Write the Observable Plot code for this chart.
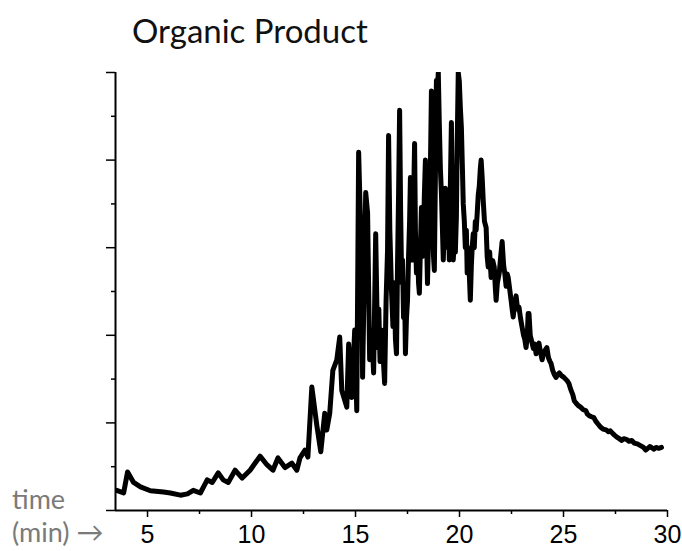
<!DOCTYPE html>
<html>
<head>
<meta charset="utf-8">
<script src="https://cdn.jsdelivr.net/npm/d3@7"></script>
<script src="https://cdn.jsdelivr.net/npm/@observablehq/plot@0.6"></script>
<style>
  html, body { margin: 0; padding: 0; background: #fff; }
  #wrap { position: relative; width: 682px; height: 551px; overflow: hidden; }
  #title { position: absolute; left: 132px; top: 14px; font: 33px/33px Lato, "Open Sans", sans-serif; color: #111; white-space: nowrap; }
  .unit { position: absolute; left: 12px; font: 27px/27px Lato, "Open Sans", sans-serif; color: #7a7a7a; white-space: nowrap; }
  #chart { position: absolute; left: 0; top: 0; }
</style>
</head>
<body>
<div id="wrap">
  <div id="chart"></div>
  <div id="title">Organic Product</div>
  <div class="unit" style="top:485px">time</div>
  <div class="unit" style="top:518px">(min) →</div>
</div>
<script>
// Retention time (min)
const times = [
  3.52, 3.85, 4.04, 4.33, 4.66, 5.14, 5.77, 6.10, 6.58, 6.92,
  7.20, 7.54, 7.87, 8.11, 8.40, 8.64, 8.88, 9.21, 9.55, 9.93,
  10.41, 10.75, 11.03, 11.27, 11.61, 11.94, 12.18, 12.33, 12.57, 12.71,
  12.90, 13.14, 13.33, 13.52, 13.62, 13.76, 13.91, 14.10, 14.24, 14.34,
  14.58, 14.67, 14.82, 14.96, 15.06, 15.15, 15.30, 15.34, 15.49, 15.58,
  15.68, 15.78, 15.87, 15.97, 16.06, 16.12, 16.18, 16.25, 16.32, 16.40,
  16.47, 16.54, 16.59, 16.65, 16.73, 16.80, 16.86, 16.92, 16.97, 17.02,
  17.07, 17.12, 17.17, 17.22, 17.26, 17.31, 17.36, 17.40, 17.45, 17.50,
  17.55, 17.60, 17.64, 17.69, 17.74, 17.79, 17.84, 17.88, 17.93, 17.98,
  18.03, 18.07, 18.12, 18.17, 18.22, 18.27, 18.31, 18.36, 18.41, 18.46,
  18.51, 18.55, 18.60, 18.65, 18.70, 18.75, 18.79, 18.84, 18.89, 18.94,
  18.98, 19.03, 19.08, 19.13, 19.18, 19.22, 19.27, 19.32, 19.37, 19.42,
  19.46, 19.51, 19.56, 19.61, 19.66, 19.70, 19.75, 19.80, 19.85, 19.89,
  19.94, 19.99, 20.04, 20.09, 20.14, 20.18, 20.23, 20.28, 20.33, 20.37,
  20.42, 20.47, 20.52, 20.57, 20.61, 20.66, 20.71, 20.76, 20.80, 20.85,
  20.90, 20.95, 21.00, 21.04, 21.09,
  21.14, 21.20, 21.28, 21.33, 21.38, 21.45, 21.52, 21.60, 21.67, 21.72,
  21.76, 21.82, 21.91, 21.98, 22.05, 22.12, 22.18, 22.24, 22.29, 22.34,
  22.40, 22.48, 22.53, 22.58, 22.65, 22.72, 22.79, 22.86, 22.93, 23.01,
  23.08, 23.14, 23.20, 23.26, 23.30, 23.34, 23.40, 23.49, 23.55, 23.62,
  23.68, 23.75, 23.82, 23.90, 23.97, 24.05, 24.12, 24.20, 24.28, 24.35,
  24.40, 24.48, 24.56, 24.64, 24.72, 24.80, 24.90, 25.02, 25.10, 25.18,
  25.26, 25.35, 25.45, 25.52, 25.59, 25.70, 25.82, 25.95, 26.07, 26.15,
  26.25, 26.35, 26.46, 26.55, 26.65, 26.79, 26.90, 27.05, 27.15, 27.25,
  27.32, 27.45, 27.55, 27.68, 27.80, 27.90, 28.05, 28.15, 28.28, 28.40,
  28.55, 28.70, 28.85, 28.95, 29.05, 29.15, 29.23, 29.35, 29.45, 29.58,
  29.71
];
// Detector signal (arbitrary units)
const signal = [
  0.23, 0.20, 0.44, 0.32, 0.27, 0.225, 0.21, 0.20, 0.175, 0.19,
  0.23, 0.20, 0.35, 0.32, 0.43, 0.35, 0.32, 0.46, 0.37, 0.46,
  0.62, 0.52, 0.46, 0.60, 0.49, 0.54, 0.46, 0.60, 0.69, 0.61,
  1.41, 0.97, 0.67, 1.11, 0.92, 1.11, 1.60, 1.72, 1.98, 1.37,
  1.18, 1.90, 1.29, 2.06, 1.14, 4.09, 2.74, 1.52, 3.63, 3.40,
  1.72, 2.06, 1.57, 3.16, 1.86, 2.30, 1.70, 2.06, 1.80, 1.45,
  2.40, 2.97, 4.28, 3.20, 2.51, 2.10, 2.60, 1.95, 1.79, 2.81,
  3.60, 4.57, 3.40, 2.60, 2.86, 2.20, 2.50, 1.79, 2.20, 2.40,
  2.90, 3.30, 3.80, 3.00, 2.86, 3.50, 4.19, 3.20, 2.71, 3.00,
  2.60, 2.48, 3.00, 3.46, 2.90, 3.16, 3.60, 4.00, 3.20, 2.59,
  3.10, 3.62, 3.90, 4.79, 3.40, 2.90, 2.74, 3.80, 4.91, 4.80,
  5.00, 4.40, 3.90, 3.62, 3.20, 2.86, 3.30, 3.68, 3.30, 3.00,
  3.40, 2.86, 3.70, 4.43, 3.50, 2.86, 3.10, 2.95, 3.35, 4.20,
  5.00, 4.90, 4.60, 4.37, 3.90, 3.50, 3.31, 3.00, 3.20, 2.71,
  3.00, 2.70, 2.40, 2.80, 3.00, 3.16, 3.00, 3.30, 3.20, 3.39,
  3.60, 3.70, 3.90, 4.00, 3.80,
  3.54, 3.30, 3.23, 2.90, 2.78, 2.95, 2.66, 2.85, 2.78, 2.55,
  2.40, 2.60, 2.71, 2.90, 3.07, 2.80, 2.70, 2.56, 2.70, 2.66,
  2.55, 2.40, 2.30, 2.21, 2.35, 2.45, 2.30, 2.32, 2.20, 2.09,
  2.00, 1.95, 1.86, 2.00, 2.25, 2.25, 2.00, 1.91, 1.85, 1.90,
  1.79, 1.88, 1.91, 1.80, 1.72, 1.80, 1.83, 1.86, 1.74, 1.70,
  1.68, 1.60, 1.55, 1.52, 1.55, 1.57, 1.54, 1.52, 1.50, 1.48,
  1.45, 1.38, 1.32, 1.25, 1.23, 1.20, 1.18, 1.15, 1.14, 1.10,
  1.08, 1.07, 1.06, 1.02, 0.99, 0.95, 0.93, 0.92, 0.90, 0.91,
  0.89, 0.86, 0.84, 0.82, 0.80, 0.82, 0.81, 0.79, 0.80, 0.77,
  0.76, 0.74, 0.72, 0.69, 0.71, 0.73, 0.72, 0.70, 0.72, 0.71,
  0.72
];
const xTicks = [5, 10, 15, 20, 25, 30];
const xMinorTicks = [7.5, 12.5, 17.5, 22.5, 27.5];
const yTicks = [0, 1, 2, 3, 4, 5];
const yMinorTicks = [0.5, 1.5, 2.5, 3.5, 4.5];
const xStart = 3.46;
const xEnd = 30;

const data = times.map((t, i) => ({time: t, value: signal[i]}));

const chart = Plot.plot({
  width: 682,
  height: 551,
  marginLeft: 115,
  marginRight: 15,
  marginTop: 72,
  marginBottom: 41,
  style: {background: "transparent", color: "#000"},
  x: {domain: [xStart, xEnd]},
  y: {domain: [0, 5]},
  marks: [
    Plot.axisX({ticks: xTicks, tickSize: 7, tickPadding: 8, fontSize: 25, strokeWidth: 1.5,
      tickFormat: d => String(d), label: null, fontFamily: "Liberation Sans, Arial, sans-serif"}),
    Plot.axisX({ticks: xMinorTicks, tickSize: 4, strokeWidth: 1.5, text: null, label: null}),
    Plot.axisY({ticks: yTicks, tickSize: 9, strokeWidth: 1.5, text: null, label: null}),
    Plot.axisY({ticks: yMinorTicks, tickSize: 4, strokeWidth: 1.5, text: null, label: null}),
    Plot.ruleX([xStart], {strokeWidth: 2}),
    Plot.ruleY([0], {strokeWidth: 2}),
    Plot.line(data, {x: "time", y: "value", stroke: "#000", strokeWidth: 5,
      strokeLinejoin: "round", strokeLinecap: "round", clip: true})
  ]
});
document.getElementById("chart").appendChild(chart);
</script>
</body>
</html>
